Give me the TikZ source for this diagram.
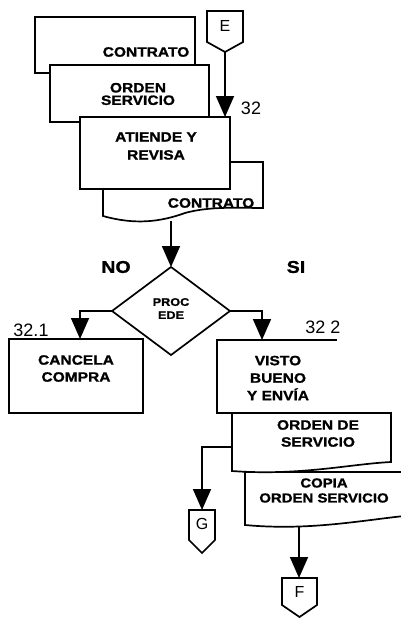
\documentclass[tikz,border=0pt]{standalone}
\usepackage{fontspec}
\setmainfont{Liberation Sans}
\newfontfamily\boxfont[FakeStretch=1.15,FakeBold=1.2]{Liberation Sans}
\usetikzlibrary{arrows.meta,shapes.geometric,calc}
\begin{document}
\begin{tikzpicture}[x=1pt,y=-1pt,
  every node/.style={inner sep=0pt, outer sep=0pt},
  ln/.style={line width=1.7pt},
  box/.style={ln, draw, fill=white, rectangle},
  arr/.style={ln, -{Triangle[width=18pt,length=21pt]}},
  txt/.style={font=\boxfont\bfseries\fontsize{13.5}{17}\selectfont, align=center},
  num/.style={font=\fontsize{18}{18}\selectfont},
  conn/.style={font=\fontsize{16}{16}\selectfont}]
\useasboundingbox (0,0) rectangle (401,621);
\fill[white] (0,0) rectangle (401,621);

% top contrato document
\node[box, minimum width=160pt, minimum height=56pt] (contrato1) at (115,45) {};
\node[txt] (t1) at (146,52) {CONTRATO};

% orden servicio
\node[box, minimum width=159pt, minimum height=57pt] (orden1) at (129.5,93.5) {};
\node[txt, font=\boxfont\bfseries\fontsize{13.5}{12.5}\selectfont] (t2) at (138,94) {ORDEN\\SERVICIO};

% bottom contrato document
\draw[ln, fill=white] (103,162) -- (263,162) -- (263,208)
  .. controls (240,208) and (210,206) .. (185,213)
  .. controls (160,222) and (135,225) .. (103,216) -- cycle;
\node[txt] (t4) at (211,203) {CONTRATO};
\coordinate (cb) at (171,221);

% atiende y revisa
\node[box, minimum width=150pt, minimum height=72pt] (atiende) at (155,153) {};
\node[txt, font=\boxfont\bfseries\fontsize{13.5}{18}\selectfont] (t3) at (156,146) {ATIENDE Y\\REVISA};

% connector E
\draw[ln, fill=white] (207,11) -- (243,11) -- (243,42) -- (225,52) -- (207,42) -- cycle;
\node[conn] (Et) at (225,26) {E};
\coordinate (Ebot) at (225,52);
\draw[arr] (Ebot) -- (Ebot |- atiende.north);
\node[num] (n32) at (251,108) {32};

% decision
\node[diamond, ln, draw, fill=white, minimum width=118pt, minimum height=88pt] (dia) at (171,311) {};
\node[txt, font=\boxfont\bfseries\fontsize{11}{13}\selectfont] (dt) at (171,308.5) {PROC\\EDE};
\draw[arr] (cb) -- (dia.north);
\node[font=\boxfont\bfseries\fontsize{17}{17}\selectfont] (no) at (116,267) {NO};
\node[font=\boxfont\bfseries\fontsize{17}{17}\selectfont] (si) at (296,267) {SI};

% cancela compra
\node[box, minimum width=134pt, minimum height=74pt] (cancela) at (76,376) {};
\node[txt] (t5) at (76,368.5) {CANCELA\\COMPRA};
\node[num] (n321) at (31,330) {32.1};
\draw[arr] (dia.west) -| ($(cancela.north west)!0.53!(cancela.north east)$);

% visto bueno
\node[minimum width=120pt, minimum height=73pt] (visto) at (277,376.5) {};
\draw[ln] (visto.north east) -- (visto.north west) -- (visto.south west) -- (visto.south east);
\node[txt, font=\boxfont\bfseries\fontsize{13.5}{17.5}\selectfont] (t6) at (278,378) {VISTO\\BUENO\\Y ENVÍA};
\node[num] (n322) at (323,327) {32 2};
\draw[arr] (dia.east) -| ($(visto.north west)!0.375!(visto.north east)$);

% copia orden servicio document
\draw[ln, fill=white] (245,472) -- (430,472) -- (430,514)
  .. controls (380,516) and (320,532) .. (245,525) -- cycle;
\node[txt, font=\boxfont\bfseries\fontsize{13}{15}\selectfont] (t8) at (324,490.5) {COPIA\\ORDEN SERVICIO};
\coordinate (cf) at (299,527);

% orden de servicio document
\draw[ln, fill=white] (232,413) -- (391,413) -- (391,462)
  .. controls (350,464) and (300,476) .. (232,471) -- cycle;
\node[txt, font=\boxfont\bfseries\fontsize{13.5}{17}\selectfont] (t7) at (318,433.5) {ORDEN DE\\SERVICIO};
\coordinate (og) at (232,447);

% connector G
\draw[ln, fill=white] (189,510) -- (215,510) -- (215,540) -- (202,553) -- (189,540) -- cycle;
\node[conn] (Gt) at (202,524) {G};
\coordinate (Gtop) at (202,510);
\draw[arr] (og) -| (Gtop);

% connector F
\draw[ln, fill=white] (282,578) -- (317,578) -- (317,605) -- (299.5,617) -- (282,605) -- cycle;
\node[conn] (Ft) at (299.5,592) {F};
\coordinate (Ftop) at (299,578);
\draw[arr] (cf) -- (Ftop);
\end{tikzpicture}
\end{document}
